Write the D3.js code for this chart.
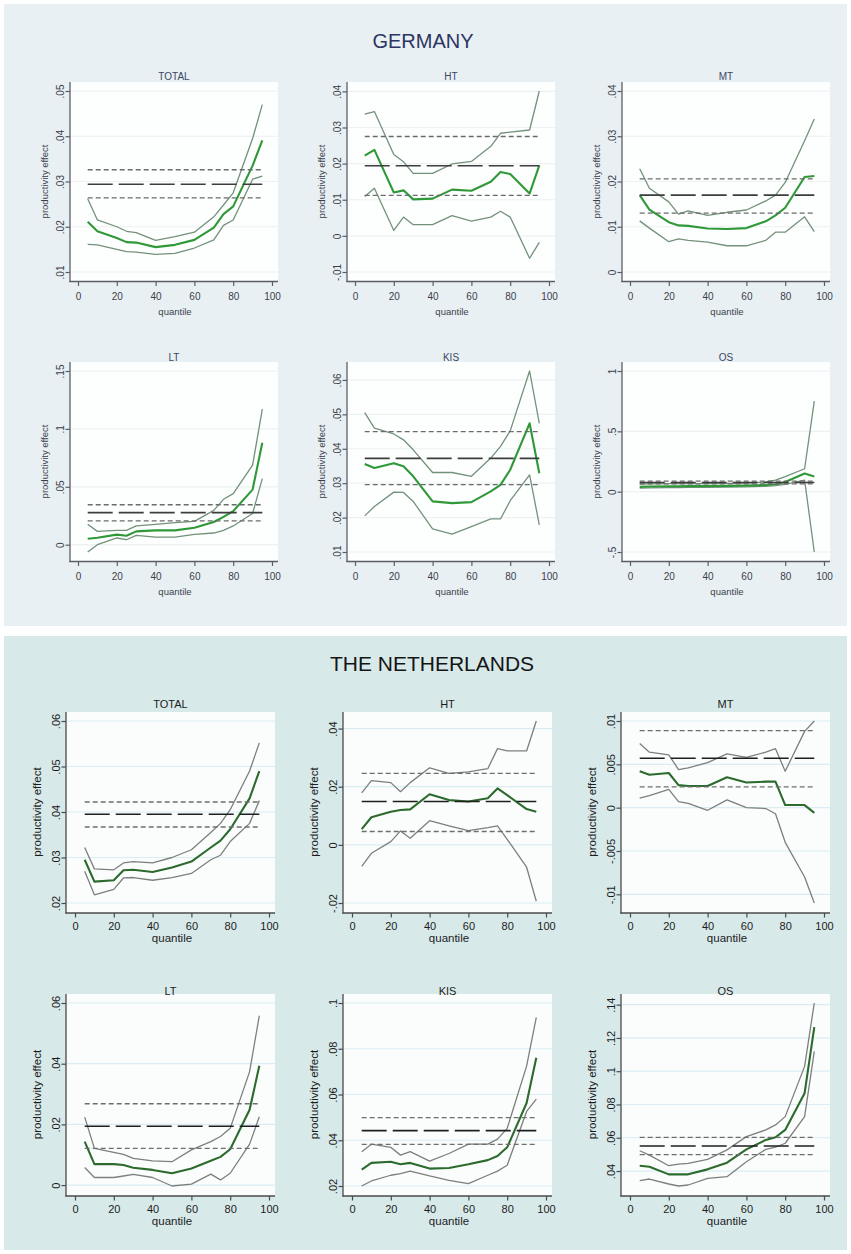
<!DOCTYPE html>
<html><head><meta charset="utf-8">
<script src="https://cdn.jsdelivr.net/npm/d3@7"></script>
<style>body{margin:0;background:#fff}svg{display:block}</style>
</head><body>
<svg id="c" width="851" height="1254"></svg>
<script>
// ---------------- DATA ----------------
const quantiles = [5,10,20,25,30,40,50,60,70,75,80,90,95];
const xTicks = [0,20,40,60,80,100];
const sectors = ["TOTAL","HT","MT","LT","KIS","OS"];
const panelTitles = ["GERMANY","THE NETHERLANDS"];
const yTitle = "productivity effect";
const xTitle = "quantile";

// Germany  (coef = quantile estimate, lo/hi = confidence band, ols = [estimate, lower, upper])
const deTotalCoef = [.0211,.0190,.0175,.0166,.0165,.0155,.0160,.0171,.0198,.0228,.0245,.0335,.0391];
const deTotalHi   = [.0262,.0215,.0200,.0190,.0187,.0170,.0178,.0188,.0222,.0248,.0275,.0395,.0470];
const deTotalLo   = [.0161,.0160,.0150,.0145,.0144,.0139,.0141,.0153,.0171,.0203,.0215,.0305,.0312];
const deTotalOls  = [.0294,.0264,.0326];
const deTotalTicks = [.01,.02,.03,.04,.05];

const deHtCoef = [.0222,.0238,.0120,.0126,.0101,.0103,.0128,.0125,.0150,.0177,.0171,.0117,.0195];
const deHtHi   = [.0337,.0344,.0225,.0205,.0173,.0173,.0199,.0206,.0248,.0284,.0287,.0293,.0401];
const deHtLo   = [.0109,.0132,.0015,.0052,.0031,.0031,.0056,.0041,.0052,.0068,.0052,-.0062,-.0018];
const deHtOls  = [.0194,.0112,.0275];
const deHtTicks = [-.01,0,.01,.02,.03,.04];

const deMtCoef = [.0170,.0138,.0110,.0103,.0102,.0096,.0095,.0097,.0112,.0125,.0142,.0210,.0212];
const deMtHi   = [.0228,.0185,.0155,.0128,.0135,.0125,.0132,.0137,.0157,.0170,.0198,.0290,.0338];
const deMtLo   = [.0113,.0097,.0067,.0073,.0070,.0066,.0058,.0058,.0070,.0088,.0088,.0122,.0089];
const deMtOls  = [.0170,.0130,.0206];
const deMtTicks = [0,.01,.02,.03,.04];

const deLtCoef = [.0052,.0060,.0087,.0078,.0115,.0124,.0124,.0147,.0196,.0240,.0290,.0476,.0880];
const deLtHi   = [.0176,.0115,.0124,.0124,.0162,.0176,.0190,.0202,.0297,.0392,.0441,.0687,.1170];
const deLtLo   = [-.0063,.0000,.0058,.0043,.0081,.0066,.0066,.0090,.0101,.0124,.0162,.0270,.0570];
const deLtOls  = [.0277,.0205,.0345];
const deLtTicks = [0,.05,.1,.15];

const deKisCoef = [.0356,.0344,.0358,.0349,.0320,.0247,.0242,.0245,.0276,.0295,.0339,.0474,.0329];
const deKisHi   = [.0505,.0460,.0443,.0426,.0397,.0331,.0331,.0320,.0373,.0407,.0452,.0626,.0474];
const deKisLo   = [.0205,.0232,.0274,.0273,.0247,.0167,.0152,.0174,.0196,.0196,.0249,.0324,.0179];
const deKisOls  = [.0372,.0296,.0450];
const deKisTicks = [.01,.02,.03,.04,.05,.06];

const deOsCoef = [.040,.043,.045,.045,.046,.047,.048,.050,.055,.062,.080,.150,.125];
const deOsHi   = [.062,.065,.066,.066,.066,.067,.068,.070,.080,.095,.125,.190,.750];
const deOsLo   = [.030,.032,.034,.034,.035,.036,.037,.040,.045,.050,.060,.095,-.500];
const deOsOls  = [.076,.064,.088];
const deOsTicks = [-.5,0,.5,1];

// The Netherlands
const nlTotalCoef = [.0295,.0247,.0250,.0272,.0273,.0268,.0278,.0291,.0322,.0337,.0362,.0430,.0490];
const nlTotalHi   = [.0322,.0275,.0273,.0288,.0291,.0288,.0300,.0317,.0355,.0375,.0405,.0490,.0552];
const nlTotalLo   = [.0270,.0218,.0230,.0255,.0256,.0250,.0256,.0265,.0295,.0305,.0335,.0375,.0425];
const nlTotalOls  = [.0395,.0367,.0422];
const nlTotalTicks = [.02,.03,.04,.05,.06];

const nlHtCoef = [.0054,.0095,.0114,.0120,.0122,.0174,.0154,.0149,.0160,.0194,.0171,.0123,.0114];
const nlHtHi   = [.0179,.0221,.0214,.0183,.0214,.0265,.0246,.0251,.0262,.0331,.0323,.0323,.0426];
const nlHtLo   = [-.0074,-.0029,.0011,.0048,.0023,.0083,.0065,.0049,.0059,.0065,.0019,-.0077,-.0194];
const nlHtOls  = [.0149,.0046,.0246];
const nlHtTicks = [-.02,0,.02,.04];

const nlMtCoef = [.0042,.0038,.0040,.0026,.0025,.0025,.0035,.0029,.0030,.0030,.0003,.0003,-.0006];
const nlMtHi   = [.0074,.0064,.0061,.0044,.0046,.0052,.0062,.0058,.0064,.0068,.0042,.0088,.0100];
const nlMtLo   = [.0011,.0014,.0021,.0007,.0005,-.0003,.0009,.0000,-.0001,-.0007,-.0040,-.0080,-.0110];
const nlMtOls  = [.0057,.0024,.0089];
const nlMtTicks = [-.01,-.005,0,.005,.01];

const nlLtCoef = [.0143,.0069,.0069,.0066,.0057,.0050,.0039,.0055,.0080,.0093,.0118,.0248,.0393];
const nlLtHi   = [.0224,.0121,.0108,.0101,.0088,.0080,.0077,.0116,.0143,.0160,.0187,.0374,.0558];
const nlLtLo   = [.0058,.0025,.0025,.0030,.0035,.0025,-.0003,.0003,.0036,.0017,.0039,.0135,.0225];
const nlLtOls  = [.0194,.0121,.0268];
const nlLtTicks = [0,.02,.04,.06];

const nlKisCoef = [.0272,.0301,.0306,.0295,.0301,.0276,.0279,.0295,.0313,.0331,.0369,.0563,.0761];
const nlKisHi   = [.0350,.0383,.0369,.0335,.0350,.0309,.0342,.0383,.0383,.0405,.0452,.0724,.0937];
const nlKisLo   = [.0200,.0222,.0247,.0254,.0265,.0244,.0225,.0210,.0247,.0265,.0291,.0526,.0580];
const nlKisOls  = [.0442,.0382,.0499];
const nlKisTicks = [.02,.04,.06,.08,.1];

const nlOsCoef = [.0432,.0426,.0380,.0380,.0380,.0410,.0450,.0530,.0587,.0603,.0647,.0868,.1265];
const nlOsHi   = [.0522,.0496,.0432,.0442,.0446,.0470,.0527,.0607,.0647,.0677,.0727,.1029,.1410];
const nlOsLo   = [.0342,.0352,.0322,.0310,.0316,.0356,.0366,.0456,.0530,.0543,.0567,.0727,.1119];
const nlOsOls  = [.0550,.0498,.0602];
const nlOsTicks = [.04,.06,.08,.1,.12,.14];

// ---------------- BUILD ----------------
const germany = [
  {coef:deTotalCoef,hi:deTotalHi,lo:deTotalLo,ols:deTotalOls,ticks:deTotalTicks},
  {coef:deHtCoef,hi:deHtHi,lo:deHtLo,ols:deHtOls,ticks:deHtTicks},
  {coef:deMtCoef,hi:deMtHi,lo:deMtLo,ols:deMtOls,ticks:deMtTicks},
  {coef:deLtCoef,hi:deLtHi,lo:deLtLo,ols:deLtOls,ticks:deLtTicks},
  {coef:deKisCoef,hi:deKisHi,lo:deKisLo,ols:deKisOls,ticks:deKisTicks},
  {coef:deOsCoef,hi:deOsHi,lo:deOsLo,ols:deOsOls,ticks:deOsTicks}
];
const netherlands = [
  {coef:nlTotalCoef,hi:nlTotalHi,lo:nlTotalLo,ols:nlTotalOls,ticks:nlTotalTicks},
  {coef:nlHtCoef,hi:nlHtHi,lo:nlHtLo,ols:nlHtOls,ticks:nlHtTicks},
  {coef:nlMtCoef,hi:nlMtHi,lo:nlMtLo,ols:nlMtOls,ticks:nlMtTicks},
  {coef:nlLtCoef,hi:nlLtHi,lo:nlLtLo,ols:nlLtOls,ticks:nlLtTicks},
  {coef:nlKisCoef,hi:nlKisHi,lo:nlKisLo,ols:nlKisOls,ticks:nlKisTicks},
  {coef:nlOsCoef,hi:nlOsHi,lo:nlOsLo,ols:nlOsOls,ticks:nlOsTicks}
];

const FONT = "'Liberation Sans', Arial, Helvetica, sans-serif";
const panels = [
  { charts: germany, title: panelTitles[0],
    bg: {x:4, y:4, w:843, h:622, fill:"#e9f0f4"},
    titleStyle: {x:423, y:48, size:20, fill:"#2c3562"},
    cols: [70, 347, 622], padL: 8, span: 194,
    rows: [{top:91,bottom:272,title:80},{top:371,bottom:552,title:361}],
    axisGap: 9.5, tickFs: 10, labFs: 9.5, ttlFs: 10, xLabY: 33, ylabOff: 22,
    text: "#3a3f4a", ttlColor:"#3b4664", axis: "#5a5e64", grid: "#edf1f2", plot: "#fdfefe",
    green: "#2f9838", ci: "#74917a", olsCol: "#3d3d3d", ciDash: "#6b6b6b" },
  { charts: netherlands, title: panelTitles[1],
    bg: {x:4, y:636, w:843, h:614, fill:"#d8e9ea"},
    titleStyle: {x:432, y:671, size:21, fill:"#151515"},
    cols: [66, 343, 621], padL: 9, span: 194,
    rows: [{top:721,bottom:903,title:708},{top:1003,bottom:1186,title:995}],
    axisGap: 10, tickFs: 11, labFs: 11.5, ttlFs: 11, xLabY: 29, ylabOff: 25,
    text: "#1c1c1c", ttlColor:"#1c1c1c", axis: "#4a4a4a", grid: "#d9edf2", plot: "#fbfdfd",
    green: "#2c6a2e", ci: "#7d7f7d", olsCol: "#1e1e1e", ciDash: "#6e6e6e" }
];

function fmt(v){
  if (v === 0) return "0";
  const s = (+v.toPrecision(6)).toString();
  return s.replace(/^(-?)0\./, "$1.");
}

const svg = d3.select("#c");
svg.append("rect").attr("width",851).attr("height",1254).attr("fill","#ffffff");

panels.forEach(P => {
  const g = svg.append("g");
  g.append("rect").attr("x",P.bg.x).attr("y",P.bg.y).attr("width",P.bg.w).attr("height",P.bg.h).attr("fill",P.bg.fill);
  g.append("text").attr("x",P.titleStyle.x).attr("y",P.titleStyle.y)
    .attr("text-anchor","middle").attr("font-family",FONT).attr("font-size",P.titleStyle.size)
    .attr("fill",P.titleStyle.fill).text(P.title);

  P.charts.forEach((c, i) => {
    const col = i % 3, row = Math.floor(i / 3);
    const ax = P.cols[col];
    const R = P.rows[row];
    const x = d3.scaleLinear().domain([0,100]).range([ax + P.padL, ax + P.padL + P.span]);
    const allVals = [].concat(c.ticks, c.coef, c.hi, c.lo, c.ols);
    const y = d3.scaleLinear().domain(d3.extent(allVals)).range([R.bottom, R.top]);
    const axisY = R.bottom + P.axisGap;
    const rightX = ax + P.padL + P.span + 6;
    const topY = R.top - 9;

    const cg = g.append("g");
    // plot region
    cg.append("rect").attr("x",ax).attr("y",topY).attr("width",rightX-ax).attr("height",axisY-topY).attr("fill",P.plot);
    // grid
    cg.selectAll("line.grid").data(c.ticks).join("line").attr("class","grid")
      .attr("x1",ax+1).attr("x2",rightX).attr("y1",d=>y(d)).attr("y2",d=>y(d))
      .attr("stroke",P.grid).attr("stroke-width",1.2);

    // chart title
    cg.append("text").attr("x",(ax+rightX)/2).attr("y",R.title)
      .attr("text-anchor","middle").attr("font-family",FONT).attr("font-size",P.ttlFs)
      .attr("fill",P.ttlColor).text(sectors[i]);

    const line = d3.line().x((d,k)=>x(quantiles[k])).y(d=>y(d));
    // CI band lines
    [c.hi, c.lo].forEach(arr => {
      cg.append("path").attr("d",line(arr)).attr("fill","none")
        .attr("stroke",P.ci).attr("stroke-width",1.3).attr("stroke-linejoin","round");
    });
    // coefficient
    cg.append("path").attr("d",line(c.coef)).attr("fill","none")
      .attr("stroke",P.green).attr("stroke-width",2.1).attr("stroke-linejoin","round");

    // OLS horizontal lines
    const hline = v => line(quantiles.map(() => v));
    [c.ols[1], c.ols[2]].forEach(v => {
      cg.append("path").attr("d",hline(v)).attr("fill","none")
        .attr("stroke",P.ciDash).attr("stroke-width",1.3).attr("stroke-dasharray","5,3");
    });
    cg.append("path").attr("d",hline(c.ols[0])).attr("fill","none")
      .attr("stroke",P.olsCol).attr("stroke-width",1.6).attr("stroke-dasharray","25,6");

    // axes
    const ya = cg.append("g").attr("transform",`translate(${ax},0)`)
      .call(d3.axisLeft(y).tickValues(c.ticks).tickSize(4.5).tickFormat(fmt));
    ya.select(".domain").remove();
    ya.selectAll(".tick line").attr("stroke",P.axis).attr("stroke-width",1.2);
    ya.selectAll(".tick text").attr("x",null).attr("dy",null).attr("text-anchor","middle")
      .attr("transform","translate(-6,0) rotate(-90)")
      .attr("font-family",FONT).attr("font-size",P.tickFs).attr("fill",P.text);
    cg.append("line").attr("x1",ax).attr("x2",ax).attr("y1",topY).attr("y2",axisY+0.6)
      .attr("stroke",P.axis).attr("stroke-width",1.3);

    const xa = cg.append("g").attr("transform",`translate(0,${axisY})`)
      .call(d3.axisBottom(x).tickValues(xTicks).tickSize(4.5).tickFormat(d3.format("d")));
    xa.select(".domain").remove();
    xa.selectAll(".tick line").attr("stroke",P.axis).attr("stroke-width",1.2);
    xa.selectAll(".tick text").attr("y",P.tickFs === 10 ? 11 : 9.5).attr("dy","0.71em")
      .attr("font-family",FONT).attr("font-size",P.tickFs).attr("fill",P.text);
    cg.append("line").attr("x1",ax-0.6).attr("x2",rightX).attr("y1",axisY).attr("y2",axisY)
      .attr("stroke",P.axis).attr("stroke-width",1.3);

    // axis titles
    cg.append("text").attr("x",(x(0)+x(100))/2).attr("y",axisY + P.xLabY)
      .attr("text-anchor","middle").attr("font-family",FONT).attr("font-size",P.labFs)
      .attr("fill",P.text).text(xTitle);
    const yc = (R.top + R.bottom)/2;
    cg.append("text").attr("transform",`translate(${ax - P.ylabOff},${yc}) rotate(-90)`)
      .attr("text-anchor","middle").attr("font-family",FONT).attr("font-size",P.labFs)
      .attr("fill",P.text).text(yTitle);
  });
});
</script>
</body></html>
